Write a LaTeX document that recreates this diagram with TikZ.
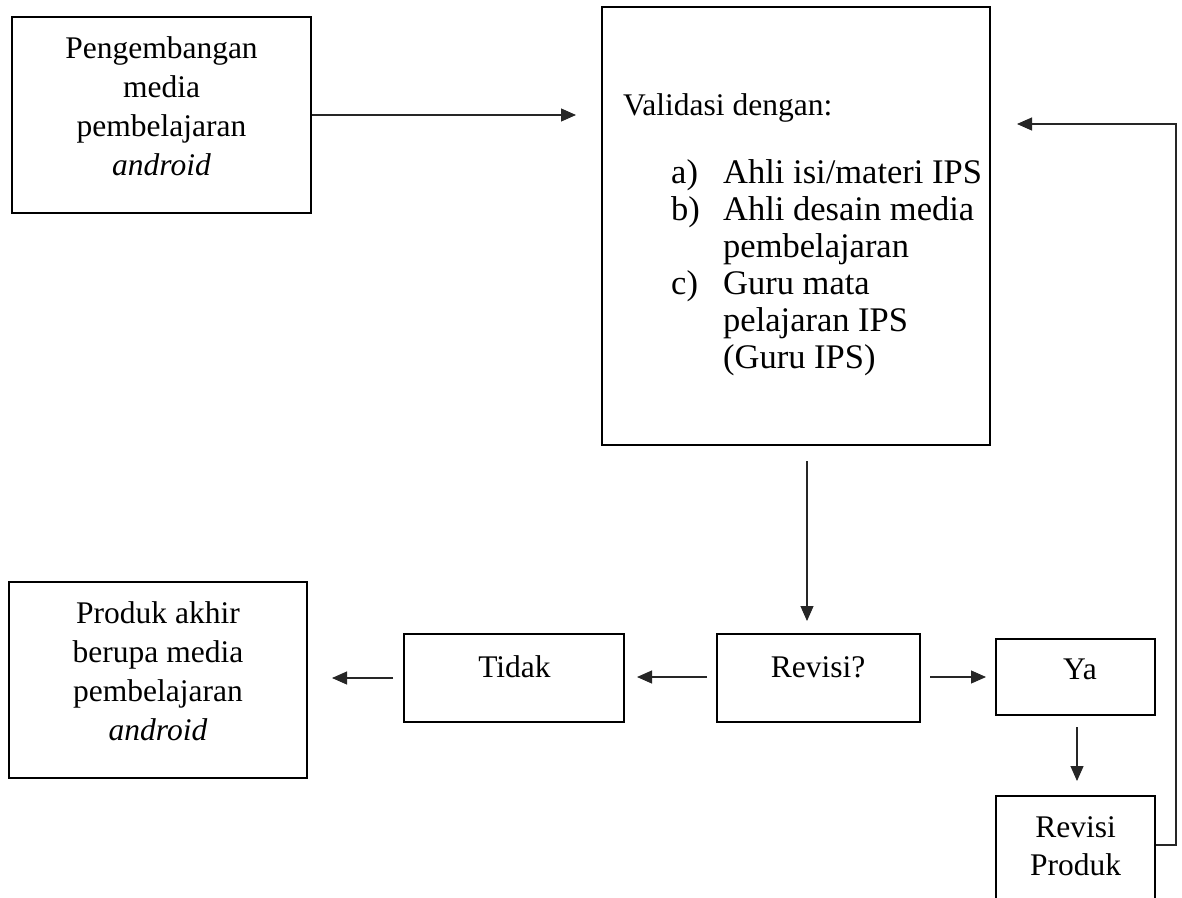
\documentclass[tikz,border=0pt]{standalone}
\usepackage{fontspec}
\setmainfont{Liberation Serif}
\usetikzlibrary{arrows.meta}
\begin{document}
\begin{tikzpicture}[x=1pt,y=-1pt,
  box/.style={draw=black, line width=2pt, rectangle, inner sep=0pt},
  lbl/.style={inner sep=0pt, anchor=base, font=\fontsize{31.5}{39}\selectfont},
  llbl/.style={inner sep=0pt, anchor=base west, font=\fontsize{31.5}{37}\selectfont},
  conn/.style={line width=1.1pt, draw=black!85, -{Triangle[length=15pt,width=13pt]}}
  ]
\clip (0,0) rectangle (1182,897);
\fill[white] (0,0) rectangle (1182,897);

% boxes
\node[box, minimum width=299pt, minimum height=196pt] (b1) at (161.5,115) {};
\node[box, minimum width=388pt, minimum height=438pt] (val) at (796,226) {};
\node[box, minimum width=298pt, minimum height=196pt] (prod) at (158,680) {};
\node[box, minimum width=220pt, minimum height=88pt] (tidak) at (514,678) {};
\node[box, minimum width=203pt, minimum height=88pt] (rev) at (818.5,678) {};
\node[box, minimum width=159pt, minimum height=76pt] (ya) at (1075.5,677) {};
\node[box, minimum width=159pt, minimum height=120pt] (rp) at (1075.5,856) {};

% texts
\node[lbl] (t1) at (161.5,58.3) {\begin{tabular}[t]{@{}c@{}}Pengembangan\\ media\\ pembelajaran\\ \textit{android}\end{tabular}};
\node[llbl] (tv) at (623,115) {Validasi dengan:};
\node[llbl, font=\fontsize{34.5}{37}\selectfont] (tl) at (671,183) {\begin{tabular}[t]{@{}l@{}l@{}}\makebox[52pt][l]{a)} & Ahli isi/materi IPS\\
 \makebox[52pt][l]{b)} & Ahli desain media\\
 & pembelajaran\\
 \makebox[52pt][l]{c)} & Guru mata\\
 & pelajaran IPS\\
 & (Guru IPS)\end{tabular}};
\node[lbl] (tp) at (158,623) {\begin{tabular}[t]{@{}c@{}}Produk akhir\\ berupa media\\ pembelajaran\\ \textit{android}\end{tabular}};
\node[lbl] (tt) at (514.5,677) {Tidak};
\node[lbl] (tr) at (818,677) {Revisi?};
\node[lbl] (ty) at (1080,679) {Ya};
\node[lbl, font=\fontsize{31.5}{38}\selectfont] (trp) at (1075.5,837) {\begin{tabular}[t]{@{}c@{}}Revisi\\ Produk\end{tabular}};

% connector end points
\coordinate (a1e) at (576,115);
\coordinate (a2s) at (807,461);
\coordinate (a2e) at (807,621);
\coordinate (a3s) at (707,677);
\coordinate (a3e) at (637,677);
\coordinate (a4s) at (393,678);
\coordinate (a4e) at (332,678);
\coordinate (a5s) at (930,677);
\coordinate (a5e) at (986,677);
\coordinate (a6s) at (1077,727);
\coordinate (a6e) at (1077,781);
\coordinate (f1) at (1176,845);
\coordinate (f2) at (1176,124);
\coordinate (f3) at (1017,124);

% connectors
\draw[conn] (b1.east) -- (a1e);
\draw[conn] (a2s) -- (a2e);
\draw[conn] (a3s) -- (a3e);
\draw[conn] (a4s) -- (a4e);
\draw[conn] (a5s) -- (a5e);
\draw[conn] (a6s) -- (a6e);
\draw[conn] (rp.east |- f1) -- (f1) -- (f2) -- (f3);
\end{tikzpicture}
\end{document}
